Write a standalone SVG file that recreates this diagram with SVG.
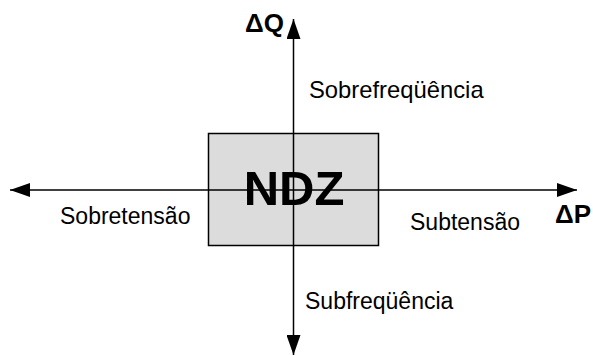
<svg xmlns="http://www.w3.org/2000/svg" width="593" height="356" viewBox="0 0 593 356">
  <style>
    .axis { stroke: #000; stroke-width: 1.5; fill: none; }
    .lbl { font-family: "Liberation Sans", Arial, sans-serif; font-size: 23px; fill: #000; }
    .ax { font-family: "Liberation Sans", Arial, sans-serif; font-size: 26px; font-weight: bold; fill: #000; }
  </style>
  <defs>
    <marker id="head" viewBox="0 0 20 14" refX="20" refY="7" markerWidth="20" markerHeight="14" markerUnits="userSpaceOnUse" orient="auto">
      <path d="M0,0 L20,7 L0,14 Z" fill="#000"/>
    </marker>
  </defs>

  <!-- dead zone box -->
  <g id="ndz">
    <rect x="208.5" y="133.5" width="170" height="112" fill="#dcdcdc" stroke="#000" stroke-width="1.5"/>
  </g>

  <!-- axes -->
  <g id="connectors">
    <line class="axis" x1="293.5" y1="190" x2="10" y2="190" marker-end="url(#head)"/>
    <line class="axis" x1="293.5" y1="190" x2="577" y2="190" marker-end="url(#head)"/>
    <line class="axis" x1="293.5" y1="190" x2="293.5" y2="19" marker-end="url(#head)"/>
    <line class="axis" x1="293.5" y1="190" x2="293.5" y2="355" marker-end="url(#head)"/>
  </g>

  <g id="ndz-label">
    <text x="294" y="205" text-anchor="middle" font-family="Liberation Sans, Arial, sans-serif" font-size="49" font-weight="bold">NDZ</text>
  </g>

  <g id="axis-labels">
    <text class="ax" x="245" y="32">ΔQ</text>
    <text class="ax" x="555" y="223">ΔP</text>
  </g>

  <g id="regions">
    <text class="lbl" x="309" y="98" style="font-size:23.8px">Sobrefreqüência</text>
    <text class="lbl" x="60" y="224">Sobretensão</text>
    <text class="lbl" x="410" y="230">Subtensão</text>
    <text class="lbl" x="305" y="309">Subfreqüência</text>
  </g>
</svg>
